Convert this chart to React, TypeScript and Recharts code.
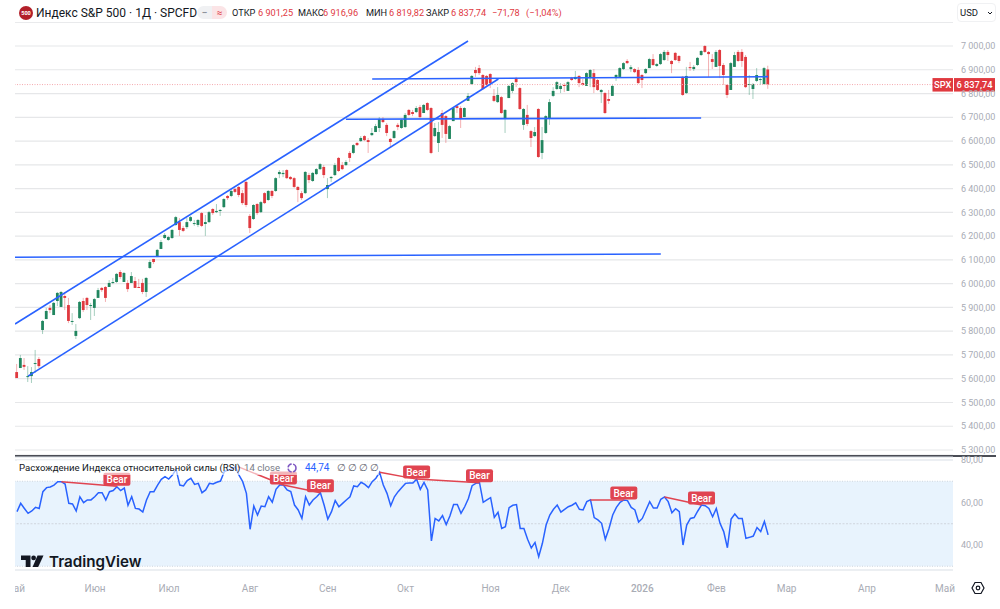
import {
  Bar,
  CartesianGrid,
  ComposedChart,
  Line,
  ReferenceArea,
  ReferenceDot,
  ReferenceLine,
  XAxis,
  YAxis,
} from 'recharts'

const opens = [
  5628, 5645, 5658, 5607, 5611, 5662, 5683, 5805, 5851, 5898, 5868, 5927, 5902, 5948, 5910, 5839, 5780, 5855, 5927, 5940,
  5906, 5898, 5940, 5982, 5986, 5986, 6003, 6007, 6049, 6007, 6003, 6003, 6011, 5986, 6003, 5965, 6066, 6104, 6112, 6146,
  6192, 6184, 6192, 6247, 6259, 6234, 6238, 6264, 6251, 6247, 6297, 6251, 6259, 6314, 6301, 6306, 6322, 6369, 6369, 6398,
  6407, 6381, 6428, 6285, 6272, 6335, 6301, 6381, 6352, 6390, 6390, 6461, 6461, 6478, 6449, 6444, 6407, 6381, 6381, 6457,
  6432, 6461, 6482, 6491, 6398, 6444, 6457, 6529, 6499, 6499, 6550, 6550, 6592, 6600, 6621, 6604, 6625, 6638, 6655, 6693,
  6668, 6609, 6613, 6668, 6655, 6659, 6731, 6722, 6722, 6743, 6718, 6760, 6739, 6621, 6592, 6718, 6705, 6609, 6684, 6747,
  6739, 6701, 6769, 6840, 6899, 6907, 6878, 6874, 6882, 6790, 6764, 6785, 6697, 6781, 6811, 6865, 6823, 6668, 6710, 6642,
  6621, 6735, 6550, 6634, 6697, 6790, 6819, 6819, 6836, 6811, 6865, 6861, 6874, 6844, 6832, 6865, 6886, 6857, 6806, 6802,
  6777, 6790, 6865, 6870, 6903, 6937, 6903, 6903, 6899, 6878, 6886, 6907, 6945, 6916, 6924, 6941, 6975, 6937, 6971, 6958,
  6870, 6802, 6911, 6903, 6920, 6962, 7000, 6975, 6945, 6912, 6983, 6920, 6836, 6815, 6912, 6975, 6975, 6954, 6836, 6819,
  6853, 6857, 6840, 6901.25,
]
const highs = [
  5662, 5700, 5687, 5653, 5649, 5721, 5691, 5847, 5898, 5910, 5923, 5965, 5969, 5965, 5940, 5876, 5830, 5927, 5940, 5944,
  5919, 5940, 5982, 5986, 5990, 6015, 6024, 6045, 6057, 6049, 6015, 6049, 6028, 6020, 6020, 6028, 6099, 6104, 6146, 6184,
  6213, 6200, 6230, 6285, 6276, 6243, 6276, 6285, 6268, 6272, 6301, 6289, 6306, 6318, 6335, 6314, 6360, 6373, 6394, 6402,
  6411, 6394, 6432, 6293, 6335, 6339, 6348, 6385, 6394, 6394, 6448, 6478, 6478, 6482, 6453, 6449, 6411, 6390, 6474, 6466,
  6470, 6486, 6508, 6499, 6444, 6453, 6508, 6533, 6512, 6520, 6558, 6587, 6596, 6621, 6625, 6613, 6655, 6672, 6701, 6701,
  6676, 6613, 6646, 6676, 6693, 6718, 6735, 6731, 6747, 6752, 6756, 6764, 6743, 6676, 6680, 6731, 6710, 6668, 6743, 6752,
  6747, 6743, 6802, 6878, 6912, 6920, 6882, 6878, 6886, 6819, 6827, 6790, 6735, 6836, 6848, 6870, 6827, 6739, 6752, 6647,
  6659, 6739, 6659, 6710, 6777, 6827, 6853, 6844, 6844, 6853, 6870, 6895, 6878, 6861, 6890, 6903, 6903, 6861, 6819, 6806,
  6815, 6836, 6882, 6911, 6932, 6945, 6920, 6907, 6911, 6882, 6907, 6950, 6966, 6928, 6971, 6983, 6983, 6941, 6975, 6962,
  6874, 6912, 6933, 6920, 6954, 6983, 7004, 6979, 6966, 6983, 6987, 6928, 6840, 6933, 6975, 6983, 6987, 6962, 6878, 6844,
  6907, 6865, 6912, 6916.96,
]
const lows = [
  5603, 5645, 5637, 5586, 5582, 5624, 5645, 5788, 5851, 5876, 5868, 5906, 5902, 5889, 5834, 5826, 5767, 5851, 5881, 5889,
  5847, 5864, 5940, 5965, 5923, 5986, 5998, 6003, 6020, 6007, 5965, 6003, 5982, 5982, 5956, 5944, 6062, 6083, 6112, 6146,
  6188, 6180, 6188, 6243, 6201, 6217, 6230, 6259, 6243, 6238, 6238, 6201, 6255, 6289, 6297, 6285, 6318, 6352, 6364, 6381,
  6364, 6331, 6322, 6213, 6268, 6289, 6297, 6335, 6348, 6360, 6386, 6444, 6448, 6440, 6436, 6402, 6343, 6352, 6377, 6423,
  6428, 6457, 6478, 6444, 6360, 6428, 6453, 6470, 6478, 6495, 6512, 6545, 6579, 6596, 6600, 6550, 6621, 6638, 6638, 6676,
  6621, 6575, 6609, 6646, 6651, 6655, 6705, 6705, 6718, 6697, 6718, 6726, 6545, 6617, 6554, 6613, 6592, 6609, 6684, 6718,
  6655, 6701, 6769, 6836, 6870, 6878, 6815, 6832, 6823, 6764, 6760, 6714, 6634, 6781, 6802, 6827, 6731, 6647, 6663, 6575,
  6617, 6529, 6524, 6630, 6668, 6785, 6815, 6802, 6806, 6811, 6853, 6857, 6827, 6832, 6832, 6827, 6802, 6811, 6760, 6714,
  6756, 6790, 6853, 6866, 6899, 6924, 6890, 6886, 6840, 6823, 6882, 6907, 6916, 6912, 6920, 6937, 6937, 6886, 6937, 6928,
  6790, 6798, 6895, 6895, 6916, 6958, 6971, 6870, 6903, 6912, 6865, 6836, 6781, 6815, 6912, 6933, 6912, 6823, 6794, 6777,
  6848, 6836, 6836, 6819.82,
]
const closes = [
  5603, 5687, 5650, 5611, 5628, 5666, 5653, 5843, 5885, 5889, 5919, 5961, 5965, 5940, 5843, 5843, 5801, 5923, 5889, 5910,
  5910, 5935, 5973, 5973, 5940, 6003, 6007, 6041, 6028, 6045, 5977, 6032, 5982, 5982, 5965, 6024, 6091, 6091, 6142, 6175,
  6205, 6196, 6226, 6280, 6226, 6222, 6259, 6280, 6255, 6268, 6243, 6259, 6301, 6297, 6306, 6310, 6356, 6360, 6390, 6386,
  6373, 6339, 6331, 6234, 6331, 6297, 6343, 6339, 6390, 6369, 6444, 6470, 6466, 6444, 6440, 6407, 6394, 6360, 6470, 6436,
  6466, 6482, 6503, 6457, 6415, 6449, 6499, 6474, 6482, 6512, 6529, 6583, 6583, 6613, 6604, 6596, 6634, 6663, 6693, 6680,
  6634, 6596, 6642, 6659, 6689, 6710, 6710, 6714, 6739, 6701, 6752, 6731, 6550, 6655, 6638, 6668, 6630, 6663, 6739, 6739,
  6697, 6739, 6790, 6874, 6886, 6886, 6819, 6836, 6844, 6769, 6794, 6718, 6731, 6832, 6844, 6848, 6735, 6735, 6672, 6613,
  6638, 6533, 6604, 6705, 6764, 6811, 6848, 6832, 6832, 6848, 6857, 6870, 6844, 6836, 6886, 6899, 6827, 6815, 6815, 6718,
  6769, 6832, 6878, 6907, 6928, 6928, 6911, 6890, 6844, 6857, 6903, 6945, 6920, 6924, 6966, 6975, 6962, 6924, 6941, 6937,
  6794, 6874, 6907, 6912, 6950, 6979, 6975, 6966, 6933, 6975, 6916, 6878, 6794, 6928, 6962, 6937, 6937, 6827, 6840, 6840,
  6878, 6861, 6907, 6837.74,
]
const rsiValues = [
  55.7, 59.6, 57.2, 54.9, 56.0, 57.7, 57.2, 65.1, 67.0, 67.3, 68.2, 69.8, 69.8, 68.7, 59.6, 59.3, 56.0, 62.7, 59.9, 61.2,
  61.2, 62.7, 64.6, 64.6, 61.2, 65.1, 65.6, 67.4, 65.6, 66.8, 58.7, 62.7, 57.2, 56.9, 55.5, 61.2, 65.1, 65.1, 68.2, 70.9,
  72.2, 71.0, 72.9, 75.6, 68.2, 67.8, 70.3, 71.4, 68.5, 69.0, 64.6, 65.9, 69.0, 68.7, 69.5, 70.1, 74.5, 75.3, 75.6, 76.9,
  72.9, 69.8, 64.3, 47.4, 58.3, 54.1, 58.3, 58.0, 62.7, 60.1, 66.2, 68.2, 68.2, 65.9, 65.1, 58.8, 56.5, 52.5, 62.7, 58.8,
  61.2, 62.7, 64.6, 58.8, 52.2, 55.7, 60.9, 58.0, 59.6, 61.2, 62.7, 67.8, 67.4, 69.5, 68.5, 67.0, 69.8, 71.4, 74.2, 68.2,
  64.3, 58.5, 62.7, 65.1, 67.1, 69.0, 69.2, 69.2, 71.0, 66.2, 69.5, 65.9, 41.9, 52.5, 51.3, 53.8, 49.6, 53.6, 59.1, 59.1,
  54.9, 58.0, 61.9, 67.9, 69.0, 69.3, 60.1, 61.2, 62.3, 53.0, 55.4, 47.8, 48.6, 57.6, 58.7, 59.0, 47.8, 47.8, 42.7, 38.6,
  41.2, 34.5, 40.8, 49.4, 54.1, 56.8, 58.8, 55.5, 56.8, 58.0, 58.7, 59.8, 56.8, 56.5, 60.4, 61.2, 52.9, 51.8, 50.2, 42.7,
  47.8, 54.1, 57.7, 60.1, 61.2, 60.9, 57.7, 56.5, 50.8, 52.5, 56.5, 60.4, 57.4, 57.4, 61.5, 62.6, 60.4, 55.2, 57.1, 55.7,
  40.0, 49.4, 52.5, 52.9, 56.0, 58.8, 58.5, 57.2, 53.3, 57.2, 50.2, 46.3, 38.7, 52.2, 54.6, 52.5, 52.5, 43.1, 43.6, 44.2,
  48.2, 46.3, 51.1, 44.74,
]

const priceTicks = [5300, 5400, 5500, 5600, 5700, 5800, 5900, 6000, 6100, 6200, 6300, 6400, 6500, 6600, 6700, 6800, 6900, 7000, 7100]
const rsiTicks = [40, 60, 80]
const monthTicks = [-0.54, 21.1, 41.1, 63, 84, 105, 128, 147, 169, 189, 208, 229.7, 250.8]
const monthLabels = ['Май', 'Июн', 'Июл', 'Авг', 'Сен', 'Окт', 'Ноя', 'Дек', '2026', 'Фев', 'Мар', 'Апр', 'Май']

// trend lines drawn on the price pane: [bar, price, bar, price]
const trendLines = [
  [-0.54, 5830, 121.9, 7021],
  [3, 5611, 130.1, 6861],
  [96, 6861, 203, 6871],
  [88.9, 6692, 184.9, 6697],
  [-0.54, 6111, 174, 6125],
]
// bearish divergences on the RSI pane: [bar, rsi, bar, rsi]
const divergences = [
  [12, 69.8, 27, 67.7],
  [59.7, 76.9, 72, 68.2],
  [72, 68.2, 82, 64.6],
  [98, 74.2, 108, 71.0],
  [108, 71.0, 125, 69.3],
  [155, 61.2, 164, 61.2],
  [175, 62.6, 185, 58.8],
]

const lastClose = closes[closes.length - 1]
const barDomain = [-0.54, 252.97]

const candles = opens.map((open, i) => ({
  i,
  open,
  high: highs[i],
  low: lows[i],
  close: closes[i],
  range: [lows[i], highs[i]],
}))
const rsiData = rsiValues.map((rsi, i) => ({ i, rsi }))

const GREEN = '#21865f'
const RED = '#e0393f'
const BLUE = '#2962ff'
const AXIS_TEXT = '#a9acb5'
const FONT = 'Roboto, sans-serif'

const formatPrice = (v: number) => {
  if (v === 7100) return ''
  const s = v.toFixed(2).replace('.', ',')
  return s.slice(0, 1) + '\u00a0' + s.slice(1)
}
const formatRsi = (v: number) => v.toFixed(2).replace('.', ',')

function Candle(props: any) {
  const { x, y, width, height, payload } = props
  const top = Math.min(y, y + height)
  const pxPerPoint = Math.abs(height) / (payload.high - payload.low || 1)
  const toY = (v: number) => top + (payload.high - v) * pxPerPoint
  const color = payload.close >= payload.open ? GREEN : RED
  const bodyTop = toY(Math.max(payload.open, payload.close))
  const bodyH = Math.max(Math.abs(payload.open - payload.close) * pxPerPoint, 1)
  const mid = x + width / 2
  return (
    <g>
      <line x1={mid} x2={mid} y1={top} y2={top + Math.abs(height)} stroke={color} strokeOpacity={0.4} strokeWidth={1} />
      <rect x={mid - 1.4} y={bodyTop} width={2.8} height={bodyH} fill={color} />
    </g>
  )
}

function PriceTag({ viewBox }: any) {
  const y = viewBox.y
  return (
    <g fontFamily={FONT} fontSize={9.3} fill="#fff">
      <rect x={917.5} y={y - 6.5} width={20.5} height={13.5} fill={RED} />
      <text x={927.7} y={y + 3.4} textAnchor="middle" fontWeight={500}>SPX</text>
      <rect x={939} y={y - 6.5} width={41} height={13.5} fill={RED} />
      <text x={959.5} y={y + 3.4} textAnchor="middle" fontWeight={500}>{'6\u00a0837,74'}</text>
    </g>
  )
}

function BearTag(props: any) {
  const { cx, cy } = props
  return (
    <g>
      <rect x={cx - 13.5} y={cy - 13.5} width={27} height={13} rx={2} fill="#e04450" />
      <text x={cx} y={cy - 3.4} textAnchor="middle" fontFamily={FONT} fontSize={10} fontWeight={500} fill="#fff">Bear</text>
    </g>
  )
}

function MonthTick(props: any) {
  const { x, y, payload } = props
  const label = monthLabels[monthTicks.indexOf(payload.value)]
  const isYear = label === '2026'
  return (
    <text
      x={x}
      y={y}
      dy={14}
      textAnchor="middle"
      fontFamily={FONT}
      fontSize={10}
      fontWeight={isYear ? 500 : 400}
      fill={AXIS_TEXT}
    >
      {label}
    </text>
  )
}

function Header() {
  const spans: [string, number, string][] = [
    ['ОТКР', 232, '#131722'],
    ['6\u00a0901,25', 258, RED],
    ['МАКС', 298, '#131722'],
    ['6\u00a0916,96', 323, RED],
    ['МИН', 366, '#131722'],
    ['6\u00a0819,82', 389, RED],
    ['ЗАКР', 426, '#131722'],
    ['6\u00a0837,74', 451, RED],
    ['−71,78', 492, RED],
    ['(−1,04%)', 526, RED],
  ]
  return (
    <>
      <div style={{ position: 'absolute', left: 19, top: 6, width: 14, height: 14, borderRadius: 7, background: '#b3202a', color: '#fff', fontSize: 5.5, fontWeight: 700, lineHeight: '14px', textAlign: 'center' }}>500</div>
      <div style={{ position: 'absolute', left: 36, top: 4, fontSize: 12, lineHeight: '18px', color: '#131722', whiteSpace: 'nowrap' }}>
        Индекс S&amp;P 500 · 1Д · SPCFD
      </div>
      <div style={{ position: 'absolute', left: 197, top: 6, width: 15, height: 13, borderRadius: '7px 0 0 7px', background: '#f0f1f3', color: '#8f939c', fontSize: 10, fontWeight: 700, lineHeight: '13px', textAlign: 'center' }}>−</div>
      <div style={{ position: 'absolute', left: 212, top: 6, width: 15, height: 13, borderRadius: '0 7px 7px 0', background: '#fbe4e6', color: RED, fontSize: 10, lineHeight: '13px', textAlign: 'center' }}>≈</div>
      {spans.map(([text, left, color]) => (
        <span key={left} style={{ position: 'absolute', left, top: 6, fontSize: 9.2, lineHeight: '14px', color, whiteSpace: 'nowrap' }}>{text}</span>
      ))}
      <div style={{ position: 'absolute', left: 957, top: 3, width: 39, height: 19, boxSizing: 'border-box', border: '1px solid #f0f1f3', borderRadius: 4, background: '#fff', fontSize: 9.5, lineHeight: '17px', paddingLeft: 2, color: '#131722' }}>
        USD
        <svg style={{ position: 'absolute', left: 29, top: 7 }} width={6} height={4} viewBox="0 0 6 4">
          <path d="M1 1l2 2 2-2" fill="none" stroke="#131722" strokeWidth={1} />
        </svg>
      </div>
    </>
  )
}

function RsiLegend() {
  const empties = [337, 348, 359, 370]
  return (
    <>
      <div style={{ position: 'absolute', left: 17, top: 460, width: 362, height: 15, background: 'rgba(255,255,255,0.6)' }} />
      <span style={{ position: 'absolute', left: 19, top: 461, fontSize: 9.6, lineHeight: '14px', color: '#131722', whiteSpace: 'nowrap' }}>Расхождение Индекса относительной силы (RSI)</span>
      <span style={{ position: 'absolute', left: 244, top: 461, fontSize: 9.6, lineHeight: '14px', color: '#787b86', whiteSpace: 'nowrap' }}>14 close</span>
      <svg style={{ position: 'absolute', left: 286, top: 462 }} width={12} height={12} viewBox="0 0 12 12">
        <circle cx={6} cy={6} r={4} fill="none" stroke="#7e57c2" strokeWidth={1.5} strokeDasharray="5 1.5" />
      </svg>
      <span style={{ position: 'absolute', left: 305, top: 461, fontSize: 10, lineHeight: '14px', color: BLUE, whiteSpace: 'nowrap' }}>44,74</span>
      {empties.map((left) => (
        <span key={left} style={{ position: 'absolute', left, top: 461, fontSize: 10.2, lineHeight: '14px', color: '#5d606b' }}>∅</span>
      ))}
    </>
  )
}

function Logo() {
  return (
    <>
      <svg style={{ position: 'absolute', left: 21, top: 555 }} width={23} height={13} viewBox="0 0 23 13">
        <path d="M0 0.5h9.5v11.5H4.7V5H0z" fill="#131722" />
        <circle cx={12.6} cy={2.9} r={2.4} fill="#131722" />
        <path d="M16.5 0.5h6L17.2 12h-5.6z" fill="#131722" />
      </svg>
      <div style={{ position: 'absolute', left: 49, top: 551, fontFamily: 'Inter, sans-serif', fontSize: 15.2, fontWeight: 600, lineHeight: '21px', color: '#131722', whiteSpace: 'nowrap' }}>TradingView</div>
    </>
  )
}

export default function App() {
  return (
    <div style={{ position: 'absolute', left: 0, top: 0, width: 1000, height: 609, overflow: 'hidden', background: '#fff', fontFamily: FONT }}>
      <div style={{ position: 'absolute', left: 15, top: 22 }}>
        <ComposedChart width={985} height={433} data={candles} margin={{ top: 0, right: 0, bottom: 0, left: 0 }}>
          <CartesianGrid horizontal vertical={false} stroke="#e6e7e9" strokeWidth={1.2} />
          <XAxis dataKey="i" type="number" domain={barDomain} allowDataOverflow hide />
          <YAxis
            orientation="right"
            width={47}
            domain={[5279, 7101]}
            allowDataOverflow
            ticks={priceTicks}
            interval={0}
            tickFormatter={formatPrice}
            axisLine={false}
            tickLine={false}
            tickMargin={2}
            tick={{ fontSize: 9, fill: AXIS_TEXT, fontFamily: FONT }}
          />
          <ReferenceLine y={lastClose} stroke="#f5a9ae" strokeWidth={1} strokeDasharray="1 1.5" label={<PriceTag />} />
          <Bar dataKey="range" barSize={3} shape={<Candle />} isAnimationActive={false} />
          {trendLines.map(([x1, y1, x2, y2], n) => (
            <ReferenceLine
              key={n}
              segment={[{ x: x1, y: y1 }, { x: x2, y: y2 }]}
              stroke={BLUE}
              strokeWidth={1.6}
            />
          ))}
        </ComposedChart>
      </div>

      <div style={{ position: 'absolute', left: 15, top: 455, width: 981, height: 1.5, background: '#4a4d55' }} />

      <div style={{ position: 'absolute', left: 15, top: 447 }}>
        <ComposedChart width={985} height={162} data={rsiData} margin={{ top: 10, right: 0, bottom: 0, left: 0 }}>
          <ReferenceArea y1={30} y2={70} fill="#e8f3fd" fillOpacity={1} stroke="none" />
          <CartesianGrid horizontal vertical={false} stroke="#d9dfe6" strokeWidth={1} />
          <XAxis
            dataKey="i"
            type="number"
            domain={barDomain}
            allowDataOverflow
            ticks={monthTicks}
            interval={0}
            height={39}
            axisLine={false}
            tickLine={false}
            tick={<MonthTick />}
          />
          <YAxis
            orientation="right"
            width={47}
            domain={[28.23, 81.41]}
            allowDataOverflow
            ticks={rsiTicks}
            interval={0}
            tickFormatter={formatRsi}
            axisLine={false}
            tickLine={false}
            tickMargin={2}
            tick={{ fontSize: 9, fill: AXIS_TEXT, fontFamily: FONT }}
          />
          <ReferenceLine y={70} stroke="#cfd6de" strokeDasharray="1 1.5" />
          <ReferenceLine y={50} stroke="#cfd6de" strokeDasharray="2 1.5" />
          <ReferenceLine y={30} stroke="#cfd6de" strokeDasharray="1 1.5" />
          <Line dataKey="rsi" stroke={BLUE} strokeWidth={1.5} dot={false} isAnimationActive={false} />
          {divergences.map(([x1, y1, x2, y2], n) => (
            <ReferenceLine
              key={n}
              segment={[{ x: x1, y: y1 }, { x: x2, y: y2 }]}
              stroke="#e04450"
              strokeWidth={1.5}
            />
          ))}
          {divergences.map(([, , x2, y2], n) => (
            <ReferenceDot key={n} x={x2} y={y2} r={0} shape={<BearTag />} />
          ))}
        </ComposedChart>
      </div>

      <Header />
      <RsiLegend />
      <Logo />
      <svg style={{ position: 'absolute', left: 971, top: 581 }} width={14} height={14} viewBox="0 0 14 14">
        <path d="M4 1.5h6L13 7l-3 5.5H4L1 7z" fill="none" stroke="#131722" strokeWidth={1.2} />
        <circle cx={7} cy={7} r={1.8} fill="none" stroke="#131722" strokeWidth={1.2} />
      </svg>
    </div>
  )
}
